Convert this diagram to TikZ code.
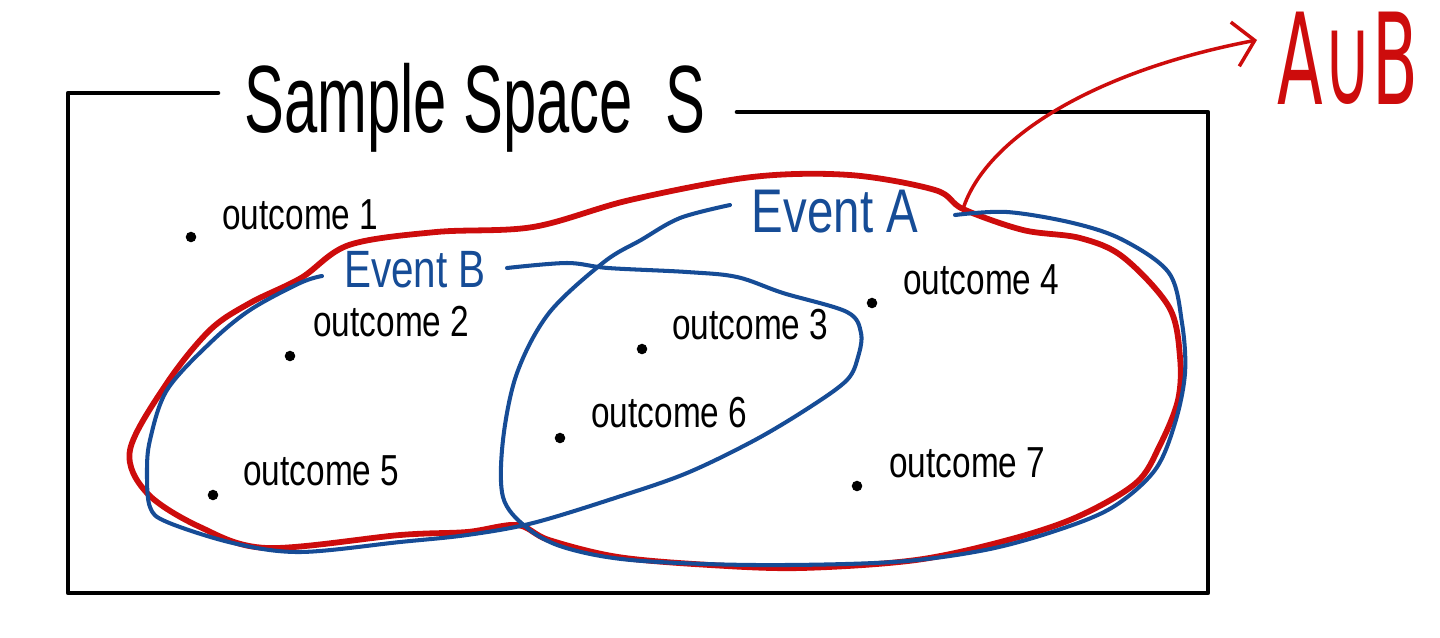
\documentclass[tikz,border=0pt]{standalone}
\usepackage{fontspec}
\setmainfont{Liberation Sans}
\newfontfamily\symbfont{DejaVu Sans}
\usetikzlibrary{arrows.meta}
\definecolor{unionred}{RGB}{205,12,12}
\definecolor{eventblue}{RGB}{22,76,150}
\newcommand{\handtext}[2]{\scalebox{1}[#1]{#2}}

\begin{document}
\begin{tikzpicture}[x=0.02cm,y=-0.02cm,line join=round,line cap=round,
  frame/.style={draw=black,line width=2.6pt},
  union/.style={draw=unionred,line width=3.3pt},
  event/.style={draw=eventblue,line width=2.3pt},
  dot/.style={circle,fill=black,inner sep=0pt,minimum size=6pt},
  outlabel/.style={anchor=base west,inner sep=0pt,font=\fontsize{19}{22}\selectfont},
  evlabel/.style={text=eventblue,inner sep=0pt}]
\useasboundingbox (0,0) rectangle (1440,637);

% sample space
\node[inner sep=0pt,font=\fontsize{34}{40}\selectfont] (title) at (475,108) {\handtext{1.6}{Sample Space\ \ S}};
\draw[frame] (218,93) -- (68,93) -- (68,593) -- (1208,593) -- (1208,112) -- (737,112);

% A union B
\draw[union] plot[smooth cycle,tension=0.55] coordinates {(301,278) (349,245) (436,232) (533,227) (630,200) (752,177) (850,175) (935,190) (963,209) (1023,230) (1080,238) (1123,257) (1169,307) (1180,357) (1178,400) (1160,445) (1136,483) (1077,517) (1008,540) (916,560) (801,568) (710,565) (618,557) (549,540) (517,525) (467,532) (400,535) (267,548) (200,527) (147,493) (130,450) (167,383) (210,330) (250,303)};

% event A
\node[evlabel,font=\fontsize{27}{32}\selectfont] (evA) at (835,212) {\handtext{1.3}{Event A}};
\draw[event] plot[smooth,tension=0.55] coordinates {(730,205) (680,218) (641,240) (604,262) (549,313) (517,373) (503,440) (503,497) (526,527) (563,547) (631,560) (755,565) (893,562) (985,550) (1058,530) (1113,507) (1155,470) (1175,423) (1185,373) (1182,323) (1169,273) (1123,240) (1073,223) (1007,212) (955,215)};

% event B
\node[evlabel,font=\fontsize{23}{28}\selectfont] (evB) at (415,270) {\handtext{1.3}{Event B}};
\draw[event] plot[smooth,tension=0.55] coordinates {(507,268) (567,263) (608,268) (687,272) (737,277) (783,293) (847,312) (861,333) (858,357) (847,380) (810,407) (755,440) (687,473) (618,497) (533,523) (467,535) (400,542) (300,552) (233,543) (167,522) (150,507) (147,473) (150,440) (167,390) (210,343) (250,310) (300,283) (322,276)};

% arrow to the label
\coordinate (ujoin) at (963,209);
\coordinate (utip) at (1257,40);
\node[text=unionred,inner sep=0pt,font=\symbfont\fontsize{38}{44}\selectfont] (AuB) at (1348,58) {\handtext{1.9}{A∪B}};
\draw[unionred,line width=2pt,-{Straight Barb[length=4mm,width=9mm]}] (ujoin) .. controls (985,140) and (1090,72) .. (utip);

% outcomes
\node[dot] (d1) at (191,237) {};
\node[outlabel] (o1) at (222,229) {\handtext{1.3}{outcome 1}};
\node[dot] (d2) at (290,356) {};
\node[outlabel] (o2) at (313,336) {\handtext{1.3}{outcome 2}};
\node[dot] (d3) at (642,349) {};
\node[outlabel] (o3) at (672,339) {\handtext{1.3}{outcome 3}};
\node[dot] (d4) at (872,303) {};
\node[outlabel] (o4) at (903,294) {\handtext{1.3}{outcome 4}};
\node[dot] (d5) at (213,495) {};
\node[outlabel] (o5) at (243,485) {\handtext{1.3}{outcome 5}};
\node[dot] (d6) at (560,438) {};
\node[outlabel] (o6) at (591,427) {\handtext{1.3}{outcome 6}};
\node[dot] (d7) at (857,486) {};
\node[outlabel] (o7) at (889,477) {\handtext{1.3}{outcome 7}};
\end{tikzpicture}
\end{document}
